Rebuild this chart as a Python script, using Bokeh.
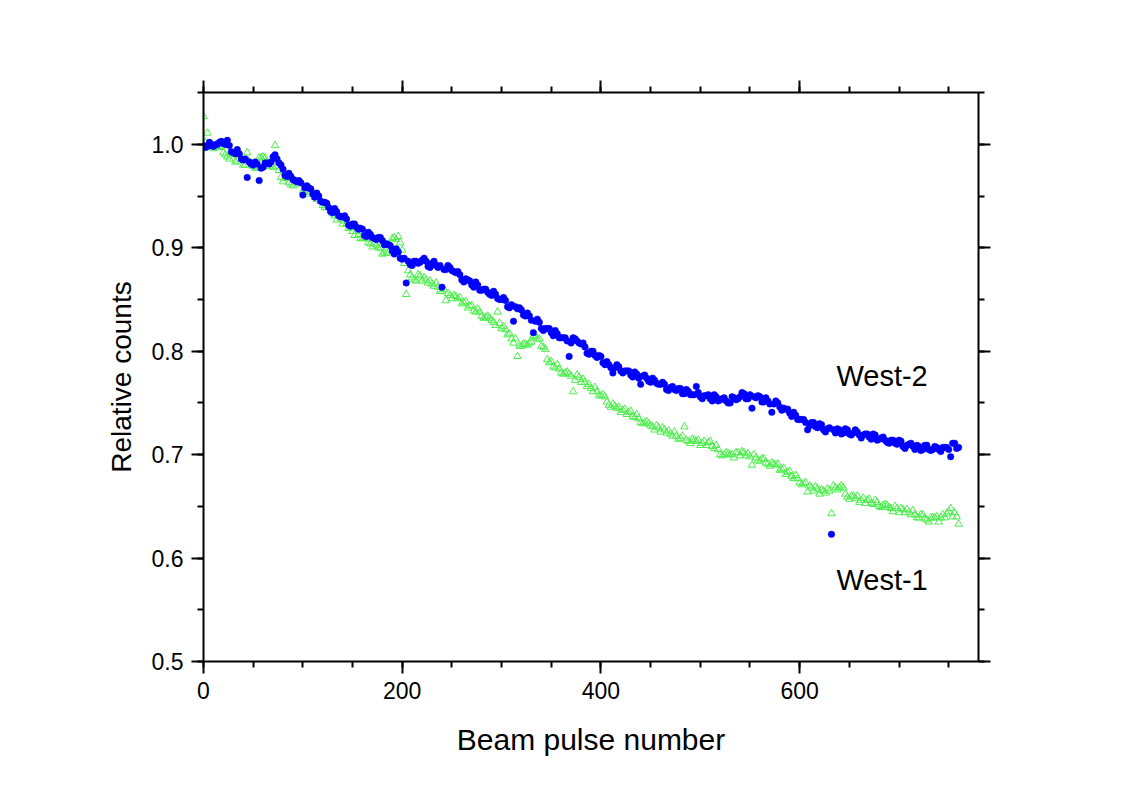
from bokeh.plotting import figure
from bokeh.models import (Range1d, LinearAxis, SingleIntervalTicker, NumeralTickFormatter,
                          Label, CustomJSTickFormatter, ColumnDataSource)
from bokeh.embed import file_html
from bokeh.resources import INLINE

# ---------------- data ----------------
# readings at pulses 0, 4, 8, ... 760
pulse_a = list(range(0, 761, 4))
# readings at pulses 2, 6, 10, ... 758
pulse_b = list(range(2, 759, 4))

west2_a = [
    0.999, 0.998, 0.999, 1.000, 1.002, 1.001, 1.004, 0.993, 0.991, 0.991,
    0.985, 0.968, 0.981, 0.983, 0.965, 0.978, 0.982, 0.983, 0.990, 0.982,
    0.976, 0.969, 0.969, 0.965, 0.965, 0.951, 0.960, 0.957, 0.949, 0.950,
    0.944, 0.943, 0.935, 0.938, 0.931, 0.930, 0.928, 0.921, 0.923, 0.918,
    0.918, 0.911, 0.913, 0.909, 0.910, 0.907, 0.904, 0.902, 0.894, 0.896,
    0.889, 0.866, 0.884, 0.887, 0.885, 0.888, 0.887, 0.881, 0.887, 0.881,
    0.862, 0.879, 0.881, 0.877, 0.877, 0.869, 0.870, 0.868, 0.862, 0.864,
    0.859, 0.860, 0.855, 0.858, 0.851, 0.850, 0.849, 0.842, 0.829, 0.841,
    0.840, 0.834, 0.834, 0.818, 0.831, 0.822, 0.822, 0.822, 0.815, 0.817,
    0.813, 0.813, 0.795, 0.813, 0.810, 0.807, 0.804, 0.797, 0.800, 0.794,
    0.795, 0.787, 0.787, 0.779, 0.787, 0.781, 0.781, 0.781, 0.775, 0.778,
    0.768, 0.777, 0.771, 0.774, 0.769, 0.768, 0.768, 0.762, 0.766, 0.762,
    0.764, 0.759, 0.761, 0.758, 0.766, 0.756, 0.757, 0.758, 0.752, 0.756,
    0.753, 0.755, 0.750, 0.756, 0.753, 0.756, 0.759, 0.754, 0.745, 0.755,
    0.756, 0.751, 0.752, 0.741, 0.752, 0.746, 0.745, 0.744, 0.737, 0.738,
    0.734, 0.734, 0.724, 0.731, 0.727, 0.730, 0.724, 0.725, 0.623, 0.721,
    0.724, 0.721, 0.724, 0.719, 0.724, 0.719, 0.719, 0.720, 0.715, 0.719,
    0.715, 0.717, 0.712, 0.714, 0.711, 0.714, 0.708, 0.709, 0.711, 0.705,
    0.708, 0.705, 0.709, 0.704, 0.708, 0.705, 0.707, 0.707, 0.698, 0.711, 0.707,
]

west2_b = [
    0.997, 1.002, 0.998, 1.000, 1.003, 1.000, 0.999, 0.992, 0.995, 0.986,
    0.986, 0.983, 0.980, 0.981, 0.977, 0.982, 0.981, 0.988, 0.986, 0.980,
    0.970, 0.972, 0.966, 0.964, 0.963, 0.958, 0.958, 0.952, 0.953, 0.945,
    0.944, 0.939, 0.934, 0.935, 0.930, 0.931, 0.922, 0.923, 0.920, 0.919,
    0.912, 0.915, 0.910, 0.908, 0.910, 0.903, 0.903, 0.897, 0.899, 0.890,
    0.890, 0.887, 0.883, 0.887, 0.886, 0.890, 0.882, 0.885, 0.883, 0.883,
    0.879, 0.883, 0.878, 0.876, 0.874, 0.867, 0.869, 0.864, 0.867, 0.859,
    0.860, 0.857, 0.854, 0.855, 0.850, 0.852, 0.843, 0.845, 0.843, 0.842,
    0.835, 0.837, 0.830, 0.829, 0.828, 0.820, 0.822, 0.818, 0.820, 0.813,
    0.813, 0.810, 0.808, 0.812, 0.808, 0.808, 0.798, 0.800, 0.796, 0.796,
    0.789, 0.790, 0.784, 0.784, 0.785, 0.779, 0.781, 0.777, 0.780, 0.774,
    0.776, 0.774, 0.770, 0.772, 0.768, 0.770, 0.763, 0.765, 0.763, 0.764,
    0.759, 0.763, 0.758, 0.758, 0.760, 0.754, 0.757, 0.754, 0.758, 0.752,
    0.754, 0.752, 0.750, 0.755, 0.754, 0.760, 0.754, 0.758, 0.756, 0.757,
    0.751, 0.755, 0.749, 0.749, 0.750, 0.743, 0.744, 0.740, 0.741, 0.734,
    0.734, 0.731, 0.728, 0.731, 0.726, 0.729, 0.722, 0.726, 0.724, 0.725,
    0.720, 0.725, 0.720, 0.721, 0.722, 0.716, 0.720, 0.717, 0.720, 0.714,
    0.716, 0.714, 0.711, 0.714, 0.710, 0.713, 0.706, 0.710, 0.708, 0.709,
    0.704, 0.709, 0.705, 0.705, 0.707, 0.703, 0.707, 0.705, 0.711, 0.706,
]

west1_a = [
    1.027, 1.011, 0.998, 0.999, 0.997, 0.992, 0.988, 0.991, 0.983, 0.990,
    0.980, 0.992, 0.982, 0.977, 0.987, 0.988, 0.983, 0.981, 0.999, 0.975,
    0.964, 0.968, 0.961, 0.965, 0.962, 0.955, 0.958, 0.954, 0.949, 0.949,
    0.941, 0.939, 0.936, 0.931, 0.931, 0.923, 0.923, 0.920, 0.912, 0.913,
    0.909, 0.909, 0.904, 0.904, 0.900, 0.894, 0.895, 0.903, 0.910, 0.911,
    0.898, 0.855, 0.874, 0.869, 0.874, 0.868, 0.869, 0.868, 0.863, 0.862,
    0.858, 0.849, 0.854, 0.854, 0.851, 0.846, 0.848, 0.844, 0.839, 0.841,
    0.834, 0.833, 0.832, 0.828, 0.838, 0.822, 0.821, 0.817, 0.808, 0.795,
    0.805, 0.807, 0.808, 0.815, 0.812, 0.805, 0.802, 0.789, 0.785, 0.787,
    0.779, 0.779, 0.778, 0.761, 0.777, 0.770, 0.770, 0.768, 0.761, 0.761,
    0.757, 0.756, 0.748, 0.749, 0.745, 0.741, 0.744, 0.741, 0.737, 0.739,
    0.731, 0.731, 0.730, 0.727, 0.728, 0.722, 0.724, 0.723, 0.718, 0.718,
    0.716, 0.727, 0.713, 0.715, 0.713, 0.709, 0.713, 0.712, 0.708, 0.709,
    0.700, 0.700, 0.701, 0.700, 0.702, 0.699, 0.702, 0.701, 0.690, 0.697,
    0.694, 0.696, 0.691, 0.692, 0.690, 0.685, 0.687, 0.683, 0.679, 0.680,
    0.673, 0.672, 0.664, 0.668, 0.669, 0.662, 0.665, 0.667, 0.643, 0.668,
    0.668, 0.668, 0.659, 0.660, 0.658, 0.654, 0.658, 0.656, 0.653, 0.656,
    0.650, 0.651, 0.651, 0.648, 0.650, 0.644, 0.647, 0.647, 0.642, 0.642,
    0.639, 0.642, 0.637, 0.639, 0.639, 0.635, 0.642, 0.643, 0.648, 0.644, 0.633,
]

west1_b = [
    1.002, 0.999, 0.996, 0.998, 0.998, 0.990, 0.986, 0.990, 0.984, 0.986,
    0.980, 0.984, 0.979, 0.978, 0.987, 0.987, 0.979, 0.978, 0.979, 0.968,
    0.967, 0.963, 0.960, 0.964, 0.962, 0.957, 0.952, 0.954, 0.947, 0.945,
    0.939, 0.939, 0.933, 0.927, 0.928, 0.926, 0.919, 0.916, 0.916, 0.909,
    0.910, 0.905, 0.901, 0.902, 0.900, 0.895, 0.895, 0.909, 0.908, 0.905,
    0.885, 0.878, 0.871, 0.868, 0.873, 0.871, 0.866, 0.865, 0.866, 0.858,
    0.860, 0.856, 0.851, 0.853, 0.852, 0.847, 0.842, 0.844, 0.838, 0.838,
    0.832, 0.834, 0.830, 0.825, 0.827, 0.824, 0.816, 0.812, 0.812, 0.805,
    0.807, 0.806, 0.809, 0.814, 0.812, 0.804, 0.792, 0.790, 0.784, 0.783,
    0.778, 0.780, 0.776, 0.772, 0.775, 0.773, 0.766, 0.764, 0.765, 0.757,
    0.758, 0.751, 0.746, 0.747, 0.746, 0.743, 0.739, 0.742, 0.736, 0.735,
    0.730, 0.732, 0.728, 0.724, 0.726, 0.726, 0.721, 0.720, 0.722, 0.715,
    0.718, 0.714, 0.711, 0.714, 0.714, 0.711, 0.709, 0.713, 0.706, 0.705,
    0.699, 0.702, 0.700, 0.697, 0.702, 0.703, 0.699, 0.698, 0.700, 0.694,
    0.696, 0.692, 0.689, 0.691, 0.691, 0.686, 0.681, 0.684, 0.677, 0.677,
    0.671, 0.673, 0.670, 0.665, 0.667, 0.666, 0.663, 0.665, 0.670, 0.666,
    0.670, 0.662, 0.657, 0.660, 0.660, 0.656, 0.653, 0.657, 0.652, 0.654,
    0.649, 0.652, 0.649, 0.645, 0.648, 0.648, 0.644, 0.644, 0.646, 0.639,
    0.642, 0.638, 0.635, 0.639, 0.640, 0.639, 0.639, 0.645, 0.640, 0.640,
]

x_title = "Beam pulse number"
y_title = "Relative counts"
series_labels = ["West-2", "West-1"]

# ---------------- figure ----------------
FONT = "Liberation Sans"

p = figure(width=1122, height=777, output_backend="svg", toolbar_location=None,
           x_range=Range1d(0, 780), y_range=Range1d(0.5, 1.0502),
           min_border_left=203, min_border_right=144,
           min_border_top=92, min_border_bottom=116)
p.outline_line_color = None
p.grid.visible = False
p.background_fill_color = "white"
p.border_fill_color = "white"

src = ColumnDataSource(dict(x=pulse_a + pulse_b,
                            w1=west1_a + west1_b,
                            w2=west2_a + west2_b))

p.scatter("x", "w1", source=src, marker="triangle", size=7.5,
          fill_color=None, line_color="#4CEE4C", line_width=1)
p.scatter("x", "w2", source=src, marker="circle", size=6.5,
          fill_color="#0000FF", line_color="#0000FF", line_width=0.5)


def style_axis(ax):
    ax.axis_line_width = 2
    ax.axis_line_color = "black"
    ax.major_tick_line_width = 2
    ax.minor_tick_line_width = 2
    ax.major_tick_out = 12
    ax.major_tick_in = 0
    ax.minor_tick_out = 6
    ax.minor_tick_in = 0
    ax.major_label_text_font = FONT
    ax.major_label_text_font_size = "23px"
    ax.major_label_text_color = "black"
    ax.axis_label_text_font = FONT
    ax.axis_label_text_font_style = "normal"
    ax.axis_label_text_color = "black"


xb = p.xaxis[0]
xb.ticker = SingleIntervalTicker(interval=200, num_minor_ticks=4)
xb.axis_label = x_title
style_axis(xb)
xb.axis_label_text_font_size = "30px"
xb.major_label_standoff = 8
xb.axis_label_standoff = 21

yl = p.yaxis[0]
yl.ticker = SingleIntervalTicker(interval=0.1, num_minor_ticks=2)
yl.formatter = NumeralTickFormatter(format="0.0")
yl.axis_label = y_title
style_axis(yl)
yl.axis_label_text_font_size = "28px"
yl.major_label_standoff = 8
yl.axis_label_standoff = 12

blank = "return ''"
xt = LinearAxis(ticker=SingleIntervalTicker(interval=200, num_minor_ticks=4),
                formatter=CustomJSTickFormatter(code=blank))
style_axis(xt)
xt.major_label_standoff = 0
p.add_layout(xt, "above")

yr = LinearAxis(ticker=SingleIntervalTicker(interval=0.1, num_minor_ticks=2),
                formatter=CustomJSTickFormatter(code=blank))
style_axis(yr)
yr.major_label_standoff = 0
p.add_layout(yr, "right")

for txt, yv in zip(series_labels, [0.776, 0.579]):
    p.add_layout(Label(x=637, y=yv, text=txt, text_font=FONT, text_font_size="29px",
                       text_baseline="middle", text_align="left", text_color="black"))

open("out.html", "w").write(file_html(p, INLINE))
